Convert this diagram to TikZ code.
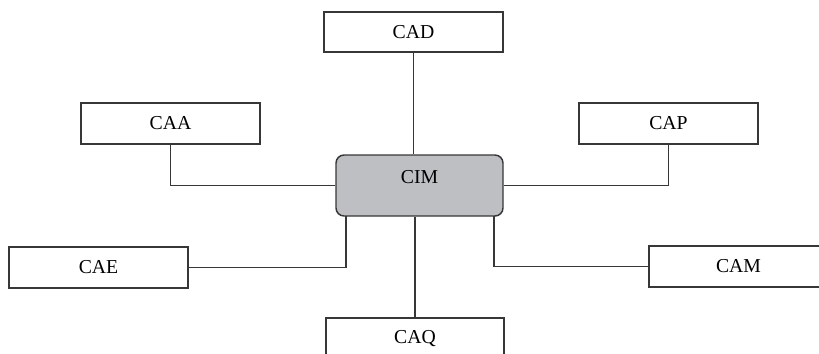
\documentclass[tikz,border=0pt]{standalone}
\usepackage{fontspec}
\setmainfont{Liberation Serif}
\definecolor{linegray}{RGB}{55,55,55}
\definecolor{cimfill}{RGB}{190,191,195}
\tikzset{
  box/.style={draw=linegray, line width=1.1pt, fill=white, rectangle, inner sep=0pt,
    minimum width=134.25pt, minimum height=30.75pt, font=\fontsize{14.8}{17}\selectfont},
  cimbox/.style={draw=linegray, line width=1.1pt, fill=cimfill, rectangle, rounded corners=6pt,
    inner sep=0pt, minimum width=125.25pt, minimum height=45.75pt, font=\fontsize{14.8}{17}\selectfont},
  conn/.style={draw=linegray, line width=1.1pt}
}
\begin{document}
\begin{tikzpicture}[x=0.75pt,y=-0.75pt]
\useasboundingbox (0,0) rectangle (819,354);
\clip (0,0) rectangle (819,354);
\node[cimbox] (CIM) at (419.5,185.5) {\raisebox{1.3pt}[0pt][0pt]{CIM}};
\node[box, minimum height=30pt] (CAD) at (413.5,32) {CAD};
\node[box] (CAA) at (170.5,123.5) {CAA};
\node[box] (CAP) at (668.5,123.5) {CAP};
\node[box] (CAE) at (98.5,267.5) {CAE};
\node[box] (CAM) at (738.5,266.5) {CAM};
\node[box, minimum width=133.5pt] (CAQ) at (415,338.5) {CAQ};
\coordinate (cimsw) at (346,216);
\coordinate (cimse) at (494,216);
\draw[conn] (CAD.south) -- (CAD.south |- CIM.north);
\draw[conn] (CAQ.north) -- (CAQ.north |- CIM.south);
\draw[conn] (CAA.south) |- (CIM.west);
\draw[conn] (CAP.south) |- (CIM.east);
\draw[conn] (CAE.east) -| (cimsw);
\draw[conn] (CAM.west) -| (cimse);
\end{tikzpicture}
\end{document}
